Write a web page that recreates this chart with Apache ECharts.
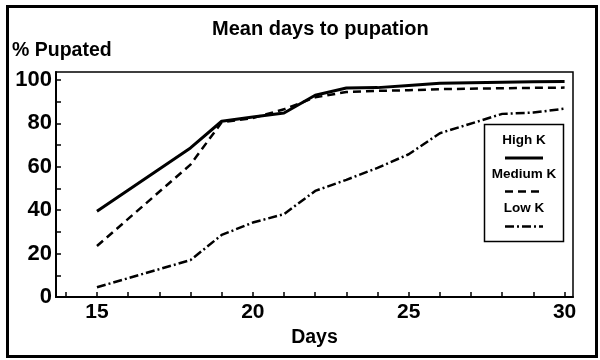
<!DOCTYPE html>
<html>
<head>
<meta charset="utf-8">
<script src="https://cdn.jsdelivr.net/npm/echarts@6/dist/echarts.min.js"></script>
<style>html,body{margin:0;padding:0;background:#fff;}#c{width:600px;height:360px;}</style>
</head>
<body>
<div id="c"></div>
<script>
const days = [15, 18, 19, 20, 21, 22, 23, 24, 25, 26, 28, 29, 30];
const highK = [39.5, 68.7, 81, 83, 84.8, 93, 96.3, 96.5, 97.5, 98.5, 99, 99.2, 99.3];
const mediumK = [23.5, 61, 80.5, 82.5, 86.5, 92, 94.5, 95, 95.3, 95.8, 96.2, 96.4, 96.5];
const lowK = [4.5, 17, 28.6, 34.3, 38.2, 48.9, 54, 59.5, 65.8, 75.5, 84.4, 85, 86.8];
const xTickLabels = [15, 20, 25, 30];
const xTicks = [14, 15, 16, 17, 18, 19, 20, 21, 22, 23, 24, 25, 26, 27, 28, 29, 30];
const yTickLabels = [0, 20, 40, 60, 80, 100];
const yTicks = [0, 10, 20, 30, 40, 50, 60, 70, 80, 90, 100];
const seriesNames = ['High K', 'Medium K', 'Low K'];

const FONT = 'Liberation Sans, Arial, sans-serif';
const pairs = arr => days.map((d, i) => [d, arr[i]]);

const chart = echarts.init(document.getElementById('c'), null, {renderer: 'canvas'});
const lineDefs = [
  {name: seriesNames[0], data: highK, type: 'solid', width: 3},
  {name: seriesNames[1], data: mediumK, type: [8, 5], width: 2.5},
  {name: seriesNames[2], data: lowK, type: [9, 3, 2, 3], width: 2.5}
];

chart.setOption({
  animation: false,
  backgroundColor: '#fff',
  title: [
    {text: 'Mean days to pupation', left: 212, top: 19, padding: 0,
     textStyle: {fontFamily: FONT, fontSize: 20, fontWeight: 'bold', color: '#000'}},
    {text: '% Pupated', left: 12, top: 41, padding: 0,
     textStyle: {fontFamily: FONT, fontSize: 19.5, fontWeight: 'bold', color: '#000'}}
  ],
  grid: {left: 56, right: 27, top: 72, bottom: 63, show: true, borderColor: '#000', borderWidth: 1.5, backgroundColor: 'transparent'},
  xAxis: {
    type: 'value', min: 13.686, max: 30.27,
    name: 'Days', nameLocation: 'middle', nameGap: 25,
    nameTextStyle: {fontFamily: FONT, fontSize: 19.5, fontWeight: 'bold', color: '#000'},
    axisLine: {show: true, lineStyle: {color: '#000', width: 2}},
    axisTick: {show: true, inside: true, length: 5, lineStyle: {color: '#000', width: 1.5}, customValues: xTicks},
    axisLabel: {customValues: xTickLabels, margin: 5, fontFamily: FONT, fontSize: 21, fontWeight: 'bold', color: '#000'},
    splitLine: {show: false}
  },
  yAxis: {
    type: 'value', min: 0, max: 103.7,
    axisLine: {show: true, lineStyle: {color: '#000', width: 2}},
    axisTick: {show: true, inside: true, length: 5, lineStyle: {color: '#000', width: 1.5}, customValues: yTicks},
    axisLabel: {customValues: yTickLabels, margin: 4, fontFamily: FONT, fontSize: 22, fontWeight: 'bold', color: '#000'},
    splitLine: {show: false}
  },
  series: lineDefs.map(s => ({
    name: s.name, type: 'line', data: pairs(s.data), showSymbol: false, symbol: 'none',
    lineStyle: {color: '#000', width: s.width, type: s.type, cap: 'butt'}
  })),
  graphic: [
    {type: 'rect', shape: {x: 7.5, y: 6.5, width: 589, height: 350}, style: {fill: 'none', stroke: '#000', lineWidth: 3}, silent: true},
    {type: 'rect', shape: {x: 484.5, y: 124.5, width: 79, height: 117}, style: {fill: '#fff', stroke: '#000', lineWidth: 1.5}, z: 10},
    {type: 'text', x: 524, y: 140, z: 11, style: {text: seriesNames[0], align: 'center', verticalAlign: 'middle', font: 'bold 13.5px ' + FONT, fill: '#000'}},
    {type: 'line', z: 11, shape: {x1: 505, y1: 158, x2: 543, y2: 158}, style: {stroke: '#000', lineWidth: 3}},
    {type: 'text', x: 524, y: 174, z: 11, style: {text: seriesNames[1], align: 'center', verticalAlign: 'middle', font: 'bold 13.5px ' + FONT, fill: '#000'}},
    {type: 'line', z: 11, shape: {x1: 505, y1: 191.5, x2: 543, y2: 191.5}, style: {stroke: '#000', lineWidth: 2.5, lineDash: [8, 5]}},
    {type: 'text', x: 524, y: 208, z: 11, style: {text: seriesNames[2], align: 'center', verticalAlign: 'middle', font: 'bold 13.5px ' + FONT, fill: '#000'}},
    {type: 'line', z: 11, shape: {x1: 505, y1: 226.5, x2: 543, y2: 226.5}, style: {stroke: '#000', lineWidth: 2.5, lineDash: [9, 3, 2, 3]}}
  ]
});
</script>
</body>
</html>
